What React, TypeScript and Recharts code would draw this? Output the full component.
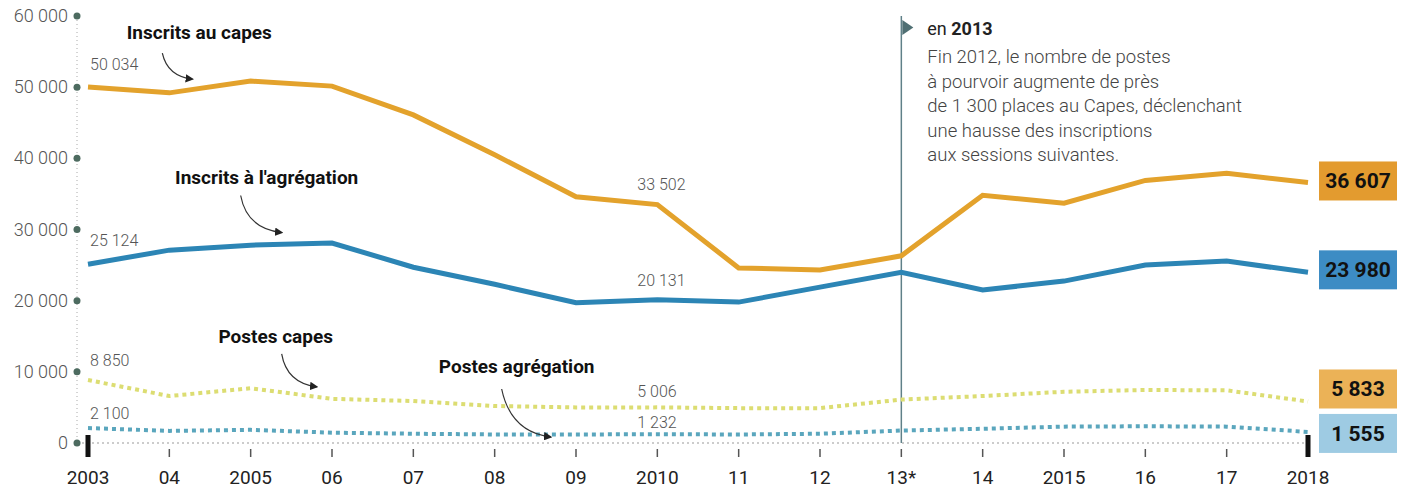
import React from "react";
import { LineChart, Line, XAxis, YAxis, ReferenceLine, ReferenceDot, LabelList } from "recharts";

const years = ["2003", "04", "2005", "06", "07", "08", "09", "2010", "11", "12", "13*", "14", "2015", "16", "17", "2018"];
const inscritsCapes = [50034, 49200, 50850, 50150, 46100, 40500, 34600, 33502, 24600, 24300, 26300, 34800, 33700, 36900, 37900, 36607];
const inscritsAgreg = [25124, 27100, 27800, 28100, 24700, 22300, 19700, 20131, 19800, 21900, 24000, 21500, 22750, 25000, 25560, 23980];
const postesCapes = [8850, 6600, 7700, 6200, 5900, 5200, 5000, 5006, 4900, 4900, 6100, 6600, 7200, 7450, 7400, 5833];
const postesAgreg = [2100, 1700, 1850, 1450, 1300, 1200, 1200, 1232, 1200, 1300, 1750, 2000, 2300, 2350, 2300, 1555];
const yTicks = [0, 10000, 20000, 30000, 40000, 50000, 60000];
const noteLines = [
  "Fin 2012, le nombre de postes",
  "à pourvoir augmente de près",
  "de 1 300 places au Capes, déclenchant",
  "une hausse des inscriptions",
  "aux sessions suivantes.",
];

const data = years.map((year, i) => ({
  year,
  capes: inscritsCapes[i],
  agreg: inscritsAgreg[i],
  pCapes: postesCapes[i],
  pAgreg: postesAgreg[i],
}));

const FONT = "Roboto, 'Noto Sans', sans-serif";
const fmt = (n: number) => String(n).replace(/\B(?=(\d{3})+(?!\d))/g, " ");

// which points get a small value label, and where
const valueLabel = (first: number, mid: number, boxColor: string, boxDy: number) => (props: any) => {
  const { x, y, value, index } = props;
  if (index === 0) {
    return (
      <text x={x + 2} y={y + first} fontSize={16} fontWeight={300} fill="#555" fontFamily={FONT}>
        {fmt(value)}
      </text>
    );
  }
  if (index === 7) {
    return (
      <text x={x - 20} y={y + mid} fontSize={16} fontWeight={300} fill="#555" fontFamily={FONT}>
        {fmt(value)}
      </text>
    );
  }
  if (index === years.length - 1) {
    return (
      <g>
        <rect x={x + 11} y={y - 20 + boxDy} width={78} height={39} fill={boxColor} />
        <text x={x + 50} y={y + 7 + boxDy} textAnchor="middle" fontSize={21} fontWeight={700} fill="#111" fontFamily={FONT}>
          {fmt(value)}
        </text>
      </g>
    );
  }
  return null;
};

const seriesNote = (text: string, tx: number, ty: number, arrow: string) => (props: any) => {
  const { cx, cy } = props;
  return (
    <g transform={`translate(${cx},${cy})`}>
      <text x={tx} y={ty} textAnchor="middle" fontSize={19} fontWeight={700} fill="#111" fontFamily={FONT}>
        {text}
      </text>
      <path d={arrow} fill="none" stroke="#333" strokeWidth={1.2} markerEnd="url(#arrowHead)" />
    </g>
  );
};

const YTick = (props: any) => {
  const { x, y, payload } = props;
  return (
    <g>
      <circle cx={x} cy={y} r={3.5} fill="#4d6b60" />
      <text x={x - 9} y={y + 6} textAnchor="end" fontSize={18} fontWeight={300} fill="#555" fontFamily={FONT}>
        {fmt(payload.value)}
      </text>
    </g>
  );
};

const XTick = (props: any) => {
  const { x, y, payload, index } = props;
  const edge = index === 0 || index === years.length - 1;
  return (
    <g>
      {edge ? (
        <rect x={x - 2.5} y={y - 8} width={5} height={22} fill="#111" />
      ) : (
        <line x1={x} x2={x} y1={y + 6} y2={y + 14} stroke="#555" strokeWidth={1.5} />
      )}
      <text x={x} y={y + 41} textAnchor="middle" fontSize={19} fill="#222" fontFamily={FONT}>
        {payload.value}
      </text>
    </g>
  );
};

const Note = (props: any) => {
  const { viewBox } = props;
  const x = viewBox.x;
  const top = viewBox.y;
  return (
    <g fontFamily={FONT}>
      <path d={`M${x + 1},${top + 4} L${x + 12},${top + 11.5} L${x + 1},${top + 19} Z`} fill="#4f6f73" />
      <text x={x + 26} y={top + 19} fontSize={18} fill="#222">
        en <tspan fontWeight={700}>2013</tspan>
      </text>
      {noteLines.map((line, i) => (
        <text key={i} x={x + 26} y={top + 47 + i * 24.5} fontSize={18.5} fontWeight={300} fill="#444">
          {line}
        </text>
      ))}
    </g>
  );
};

export default function App() {
  return (
    <div style={{ position: "absolute", left: 0, top: 0, width: 1406, height: 491, background: "#fff" }}>
      <LineChart width={1406} height={491} data={data} margin={{ top: 16, right: 98, bottom: 0, left: 5 }}>
        <defs>
          <marker id="arrowHead" viewBox="0 0 10 10" refX="8" refY="5" markerWidth="7" markerHeight="7" orient="auto">
            <path d="M0,0 L10,5 L0,10 Z" fill="#222" />
          </marker>
        </defs>
        <XAxis
          dataKey="year"
          height={48}
          padding={{ left: 11, right: 0 }}
          tickSize={0}
          tickMargin={0}
          tickLine={false}
          interval={0}
          axisLine={{ stroke: "#999", strokeDasharray: "2 3" }}
          tick={<XTick />}
        />
        <YAxis
          width={72}
          domain={[0, 60000]}
          ticks={yTicks}
          tickSize={0}
          tickMargin={0}
          tickLine={false}
          axisLine={{ stroke: "#aaa", strokeDasharray: "1 3" }}
          tick={<YTick />}
        />
        <ReferenceLine x="13*" stroke="#5f8088" strokeWidth={1.5} label={<Note />} />
        <Line dataKey="pAgreg" stroke="#5aa6bd" strokeWidth={4} strokeDasharray="4 4" dot={false} isAnimationActive={false}>
          <LabelList dataKey="pAgreg" content={valueLabel(-9, -6, "#9ecbe3", 2)} />
        </Line>
        <Line dataKey="pCapes" stroke="#dcdd72" strokeWidth={4} strokeDasharray="4 4" dot={false} isAnimationActive={false}>
          <LabelList dataKey="pCapes" content={valueLabel(-14, -10, "#ebb257", -12)} />
        </Line>
        <Line dataKey="agreg" stroke="#2c85b5" strokeWidth={5} dot={false} isAnimationActive={false}>
          <LabelList dataKey="agreg" content={valueLabel(-18, -14, "#3d8cc4", -2)} />
        </Line>
        <Line dataKey="capes" stroke="#e3a22c" strokeWidth={5} dot={false} isAnimationActive={false}>
          <LabelList dataKey="capes" content={valueLabel(-17, -15, "#e39b2f", -1)} />
        </Line>
        <ReferenceDot x="04" y={50000} r={0} shape={seriesNote("Inscrits au capes", 30, -48, "M-7,-34 Q-2,-11 23,-8")} />
        <ReferenceDot x="2005" y={30000} r={0} shape={seriesNote("Inscrits à l'agrégation", 16, -46, "M-10,-34 Q-4,-1 31,3")} />
        <ReferenceDot x="2005" y={10000} r={0} shape={seriesNote("Postes capes", 25, -29, "M31,-18 Q36,11 66,15")} />
        <ReferenceDot x="08" y={0} r={0} shape={seriesNote("Postes agrégation", 22, -70, "M7,-54 Q16,-11 56,-6")} />
      </LineChart>
    </div>
  );
}
